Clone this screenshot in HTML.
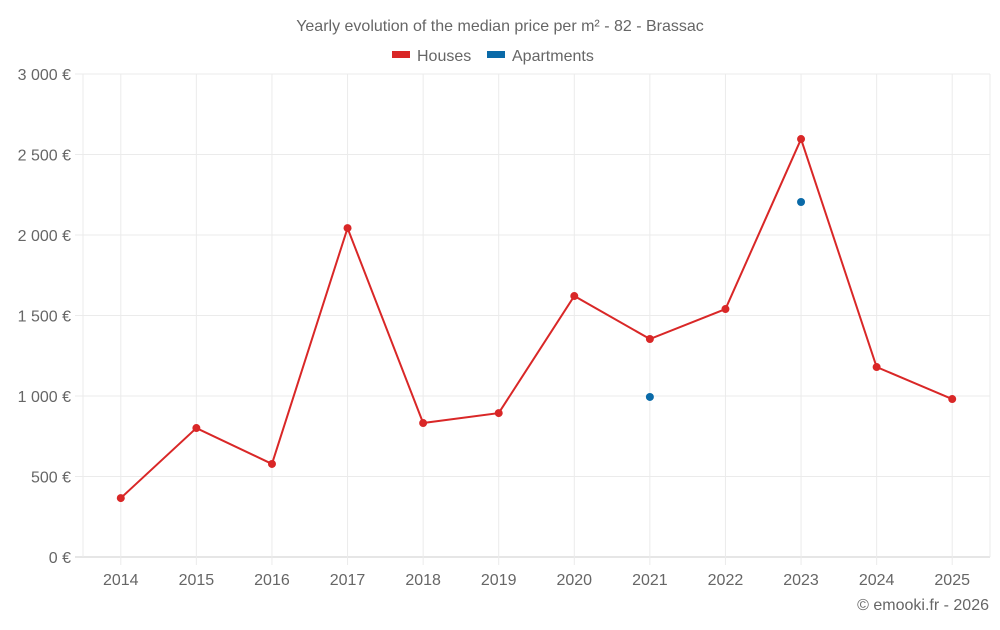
<!DOCTYPE html>
<html><head><meta charset="utf-8"><style>
body{margin:0;background:#fff;font-family:"Liberation Sans",sans-serif;}
svg text{font-family:"Liberation Sans",sans-serif;fill:#666;}
</style></head><body>
<svg id="c" width="1000" height="625">
<text x="500" y="31" text-anchor="middle" font-size="16">Yearly evolution of the median price per m² - 82 - Brassac</text>
<g>
<g><rect x="392" y="51" width="18" height="7" fill="#d92727"/><text x="417" y="61" font-size="16">Houses</text></g>
<g><rect x="487" y="51" width="18" height="7" fill="#0a6aa8"/><text x="512" y="61" font-size="16">Apartments</text></g>
</g>
<g id="grid"></g><g id="marks"></g>
<text x="989" y="610" text-anchor="end" font-size="16">© emooki.fr - 2026</text>
</svg>
<script>
const years=[2014,2015,2016,2017,2018,2019,2020,2021,2022,2023,2024,2025];
const houses=[366,801,578,2043,832,894,1621,1354,1540,2596,1180,981];
const apartments=[null,null,null,null,null,null,null,994,null,2205,null,null];
const yTicks=[0,500,1000,1500,2000,2500,3000];
const yLabels=["0 €","500 €","1 000 €","1 500 €","2 000 €","2 500 €","3 000 €"];
const L=83,R=990,T=74,B=557,NS="http://www.w3.org/2000/svg";
const step=(R-L)/years.length;
const x=i=>L+step*(i+0.5), y=v=>B-(v/3000)*(B-T);
function mk(t,a,p){const e=document.createElementNS(NS,t);for(const k in a)e.setAttribute(k,a[k]);p.appendChild(e);return e;}
const g=document.getElementById('grid'),m=document.getElementById('marks');
yTicks.forEach((v,i)=>{
 const l=mk('line',{x1:L-8,x2:R,y1:y(v),y2:y(v),stroke:i==0?'#ccc':'#ebebeb'},g);
 
 
 const t=mk('text',{x:71,y:y(v)+6,'text-anchor':'end','font-size':16},g);t.textContent=yLabels[i];
 
 
});
[L,R].forEach(xx=>{const l=mk('line',{x1:xx,x2:xx,y1:T,y2:B,stroke:'#ebebeb'},g);
 
 });
years.forEach((yr,i)=>{
 const l=mk('line',{x1:x(i),x2:x(i),y1:T,y2:B+8,stroke:'#ebebeb'},g);
 
 
 const t=mk('text',{x:x(i),y:585,'text-anchor':'middle','font-size':16},g);t.textContent=yr;
 
 });
const p=mk('polyline',{points:houses.map((v,i)=>x(i)+','+y(v)).join(' '),fill:'none',stroke:'#d92727','stroke-width':2},m);


houses.forEach((v,i)=>{const c=mk('circle',{cx:x(i),cy:y(v),r:4,fill:'#d92727'},m);
 
 });
apartments.forEach((v,i)=>{if(v==null)return;const c=mk('circle',{cx:x(i),cy:y(v),r:4,fill:'#0a6aa8'},m);
 
 });
</script>
</body></html>
